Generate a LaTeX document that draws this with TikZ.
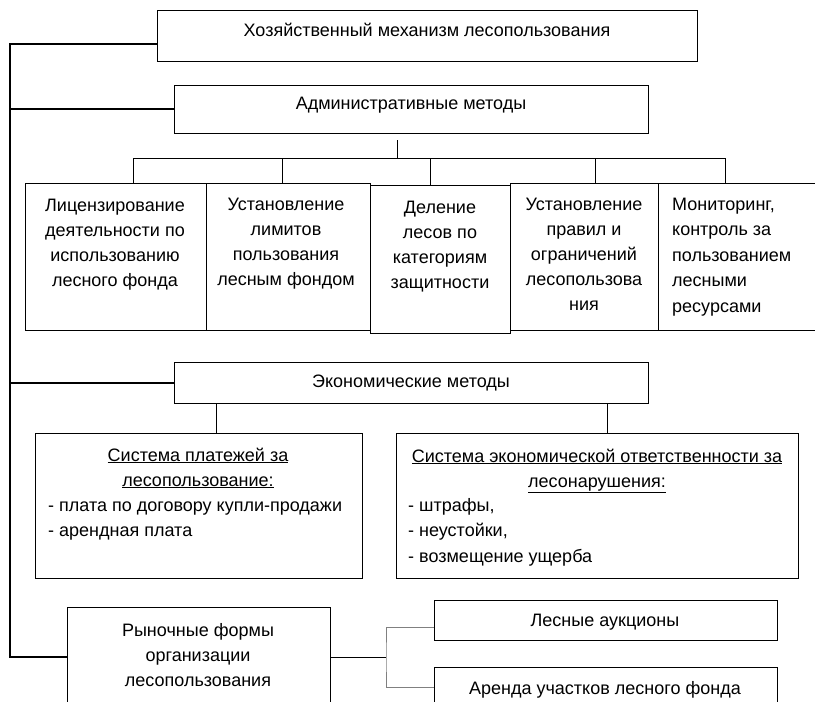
\documentclass[tikz,border=0pt]{standalone}
\usepackage{fontspec}
\setmainfont{Liberation Sans}
\tikzset{every node/.style={shape=rectangle,inner sep=0pt}}

\begin{document}
\begin{tikzpicture}[x=1pt,y=-1pt]
\useasboundingbox (0,0) rectangle (815,702);

\tikzstyle{box}=[draw,line width=1pt]
\tikzstyle{t}=[font=\fontsize{18}{25}\selectfont,align=center,anchor=base]
\tikzstyle{tl}=[font=\fontsize{18}{25.5}\selectfont,align=left,anchor=base west]
\tikzstyle{bus}=[line width=2pt]
\tikzstyle{ln}=[line width=1pt]

% boxes
\node[box,minimum width=540pt,minimum height=51pt] (hoz) at (427,35.5) {};
\node[box,minimum width=474pt,minimum height=48pt] (adm) at (411,109) {};
\node[box,minimum width=181pt,minimum height=147pt] (l1) at (115.5,256.5) {};
\node[box,minimum width=164pt,minimum height=147pt] (l2) at (288,256.5) {};
\node[box,minimum width=140pt,minimum height=148pt] (l3) at (440,259) {};
\node[box,minimum width=148pt,minimum height=147pt] (l4) at (584,256.5) {};
\node[box,minimum width=160pt,minimum height=147pt] (l5) at (738,256.5) {};
\node[box,minimum width=474pt,minimum height=41pt] (eco) at (411,382.5) {};
\node[box,minimum width=327pt,minimum height=145pt] (pay) at (198.5,505.5) {};
\node[box,minimum width=402pt,minimum height=145pt] (resp) at (597,505.5) {};
\node[box,minimum width=263pt,minimum height=100pt] (mkt) at (198.5,657) {};
\node[box,minimum width=343pt,minimum height=40pt] (auk) at (605.5,620) {};
\node[box,minimum width=343pt,minimum height=40pt] (ar) at (605.5,687) {};

% texts (base = last line)
\node[t] (hoz-t) at (427,36) {Хозяйственный механизм лесопользования};
\node[t] (adm-t) at (411,109) {Административные методы};
\node[t] (l1-t) at (115,286) {Лицензирование\\деятельности по\\использованию\\лесного фонда};
\node[t] (l2-t) at (286,285) {Установление\\лимитов\\пользования\\лесным фондом};
\node[t] (l3-t) at (440,288) {Деление\\лесов по\\категориям\\защитности};
\node[t] (l4-t) at (584,310) {Установление\\правил и\\ограничений\\лесопользова\\ния};
\node[tl] (l5-t) at (672,312) {Мониторинг,\\контроль за\\пользованием\\лесными\\ресурсами};
\node[t] (eco-t) at (411,387) {Экономические методы};
\node[t] (pay-t) at (198,486) {\underline{Система платежей за}\\\underline{лесопользование:}};
\node[tl] (pay-l) at (48,536.5) {- плата по договору купли-продажи\\- арендная плата};
\node[t] (resp-t) at (597,487) {\underline{Система экономической ответственности за}\\\underline{лесонарушения:}};
\node[tl] (resp-l) at (408,562) {- штрафы,\\- неустойки,\\- возмещение ущерба};
\node[t] (mkt-t) at (198,686) {Рыночные формы\\организации\\лесопользования};
\node[t] (auk-t) at (605,626) {Лесные аукционы};
\node[t] (ar-t) at (605,694) {Аренда участков лесного фонда};

% left bus
\coordinate (bb) at (10,657);
\draw[bus] ([yshift=-8.5pt]hoz.west) -| (bb) -- (mkt.west);
\draw[bus] (adm.west) -- (adm.west -| bb);
\draw[bus] (eco.west) -- (eco.west -| bb);

% administrative
\coordinate (hub) at (397,158);
\draw[ln] (397,140) -- (hub);
\draw[ln] (133,0 |- hub) -- (725,0 |- hub);
\foreach \n/\x in {l1/133,l2/282,l3/430,l4/595,l5/725}
  \draw[ln] (\x,0 |- hub) -- (\x,0 |- \n.north);

% economic
\draw[ln] (216,0 |- eco.south) -- (216,0 |- pay.north);
\draw[ln] (607,0 |- eco.south) -- (607,0 |- resp.north);

% market
\coordinate (fork) at (386,657);
\draw[ln] (mkt.east) -- (fork);
\draw[ln,gray] ([yshift=-7pt]auk.west) -| (fork) |- (ar.west);

\end{tikzpicture}
\end{document}
